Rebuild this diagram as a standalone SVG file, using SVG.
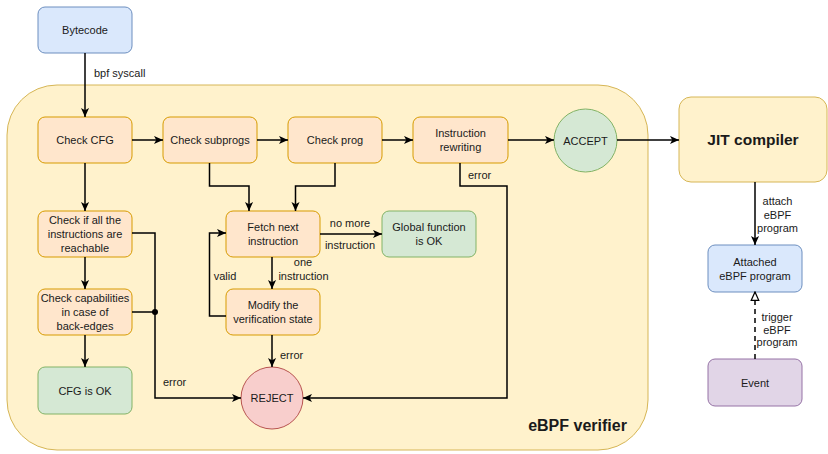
<svg xmlns="http://www.w3.org/2000/svg" width="828" height="454" viewBox="0 0 828 454">
<style>
text{font-family:"Liberation Sans",Arial,sans-serif;font-size:11px;fill:#1a1a1a}
.c{text-anchor:middle}
.b{font-weight:bold}
.blue{fill:#dae8fc;stroke:#6c8ebf}
.org{fill:#ffe6cc;stroke:#d79b00}
.grn{fill:#d5e8d4;stroke:#82b366}
.red{fill:#f8cecc;stroke:#b85450}
.yel{fill:#fff2cc;stroke:#d6b656}
.pur{fill:#e1d5e7;stroke:#9673a6}
.e{fill:none;stroke:#000;stroke-width:1.5;marker-end:url(#arr)}
</style>
<defs>
<marker id="arr" viewBox="0 0 10 10" refX="10" refY="5" markerWidth="9" markerHeight="9" markerUnits="userSpaceOnUse" orient="auto">
<path d="M0,0.5 L10,5 L0,9.5 L2.5,5 z" fill="#000"/>
</marker>
<marker id="open" viewBox="0 0 12 12" refX="11" refY="6" markerWidth="10" markerHeight="10" markerUnits="userSpaceOnUse" orient="auto">
<path d="M1,1.5 L11,6 L1,10.5 z" fill="#fff" stroke="#000" stroke-width="1.5"/>
</marker>
</defs>

<g id="verifier">
<rect class="yel" x="7" y="85" width="641" height="365" rx="50"/>
<text class="b" x="577.5" y="431" text-anchor="middle" style="font-size:16px">eBPF verifier</text>
</g>

<g id="bytecode"><rect class="blue" x="38" y="7" width="94" height="46" rx="7"/><text class="c" x="85" y="34">Bytecode</text></g>
<g id="checkcfg"><rect class="org" x="38" y="117" width="94" height="46" rx="7"/><text class="c" x="85" y="144">Check CFG</text></g>
<g id="checksubprogs"><rect class="org" x="163" y="117" width="94" height="46" rx="7"/><text class="c" x="210" y="144">Check subprogs</text></g>
<g id="checkprog"><rect class="org" x="288" y="117" width="94" height="46" rx="7"/><text class="c" x="335" y="144">Check prog</text></g>
<g id="rewriting"><rect class="org" x="413" y="117" width="95" height="46" rx="7"/><text class="c" x="460.5" y="137">Instruction</text><text class="c" x="460.5" y="151">rewriting</text></g>
<g id="accept"><circle class="grn" cx="585.5" cy="140.5" r="31.5"/><text class="c" x="585.5" y="144.5">ACCEPT</text></g>
<g id="jit"><rect class="yel" x="679" y="97" width="148" height="85" rx="12"/><text class="c b" x="753" y="145" style="font-size:15.5px">JIT compiler</text></g>
<g id="reachable"><rect class="org" x="38" y="211" width="94" height="46" rx="7"/><text class="c" x="85" y="224">Check if all the</text><text class="c" x="85" y="238">instructions are</text><text class="c" x="85" y="252">reachable</text></g>
<g id="capabilities"><rect class="org" x="38" y="289" width="94" height="46" rx="7"/><text class="c" x="85" y="302">Check capabilities</text><text class="c" x="85" y="316">in case of</text><text class="c" x="85" y="330">back-edges</text></g>
<g id="cfgok"><rect class="grn" x="38" y="367" width="94" height="47" rx="7"/><text class="c" x="85" y="394.5">CFG is OK</text></g>
<g id="fetch"><rect class="org" x="226" y="211" width="94" height="46" rx="7"/><text class="c" x="273" y="231">Fetch next</text><text class="c" x="273" y="245">instruction</text></g>
<g id="globalok"><rect class="grn" x="382" y="211" width="94" height="46" rx="7"/><text class="c" x="429" y="231">Global function</text><text class="c" x="429" y="245">is OK</text></g>
<g id="modify"><rect class="org" x="226" y="289" width="94" height="46" rx="7"/><text class="c" x="273" y="309">Modify the</text><text class="c" x="273" y="323">verification state</text></g>
<g id="reject"><circle class="red" cx="272" cy="398" r="31"/><text class="c" x="272" y="402">REJECT</text></g>
<g id="attached"><rect class="blue" x="708" y="245" width="94" height="47" rx="7"/><text class="c" x="755" y="266">Attached</text><text class="c" x="755" y="280">eBPF program</text></g>
<g id="event"><rect class="pur" x="708" y="359" width="94" height="47" rx="7"/><text class="c" x="755" y="386.5">Event</text></g>

<g id="connectors">
<path class="e" d="M85,53 V117"/>
<text x="94" y="77">bpf syscall</text>
<path class="e" d="M132,140 H163"/>
<path class="e" d="M257,140 H288"/>
<path class="e" d="M382,140 H413"/>
<path class="e" d="M508,140 H554"/>
<path class="e" d="M617,140 H679"/>
<path class="e" d="M85,163 V211"/>
<path class="e" d="M85,257 V289"/>
<path class="e" d="M85,335 V367"/>
<path class="e" d="M132,233 H155 V398 H241"/>
<path fill="none" stroke="#000" stroke-width="1.5" d="M132,312 H155"/>
<circle cx="155" cy="312" r="3" fill="#000"/>
<text x="163" y="386">error</text>
<path class="e" d="M209.5,163 V186 H249 V211"/>
<path class="e" d="M335,163 V186 H295.5 V211"/>
<path class="e" d="M320,234 H382"/>
<text class="c" x="350" y="227">no more</text>
<text class="c" x="350" y="249">instruction</text>
<path class="e" d="M272,257 V289"/>
<text class="c" x="303" y="266">one</text>
<text class="c" x="303.5" y="280">instruction</text>
<path class="e" d="M226,316 H209.5 V233 H226"/>
<text class="c" x="225" y="280">valid</text>
<path class="e" d="M272,335 V367"/>
<text x="280" y="359">error</text>
<path class="e" d="M460,163 V186 H507 V398 H303"/>
<text x="468" y="179">error</text>
<path class="e" d="M755,182 V245"/>
<text class="c" x="777.5" y="205">attach</text>
<text class="c" x="777.5" y="219">eBPF</text>
<text class="c" x="777.5" y="232">program</text>
<path fill="none" stroke="#000" stroke-width="1.5" stroke-dasharray="5 4" marker-end="url(#open)" d="M755,359 V292"/>
<text class="c" x="777" y="321">trigger</text>
<text class="c" x="777" y="334">eBPF</text>
<text class="c" x="777" y="346">program</text>
</g>
</svg>
